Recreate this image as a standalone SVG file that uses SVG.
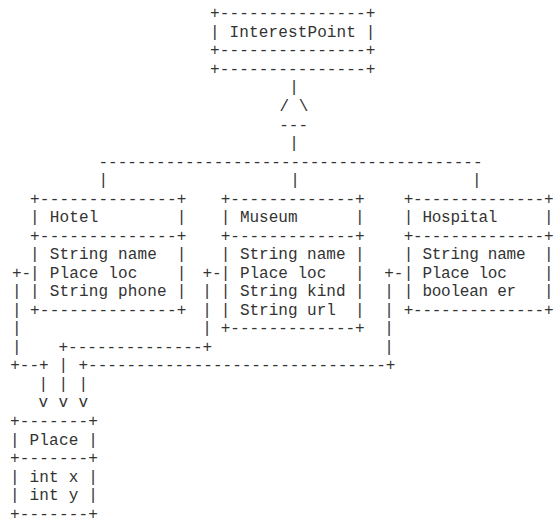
<svg xmlns="http://www.w3.org/2000/svg" width="553" height="518" viewBox="0 0 553 518" xml:space="preserve">
<style>
text { font-family: "Liberation Mono", "Courier New", monospace; font-size: 16px; fill: #333; white-space: pre; }
.ip text { letter-spacing: 0.13px; }
.hotel text { letter-spacing: 0.17px; }
.hosp text { letter-spacing: -0.25px; }
.place text { letter-spacing: 0.2px; }
.sp text.wide { letter-spacing: 0.4px; }
</style>
<rect width="553" height="518" fill="#fff"/>
<g id="InterestPoint" class="ip">
<text x="210.1" y="18.3">+---------------+</text>
<text x="210.1" y="36.8">| InterestPoint |</text>
<text x="210.1" y="55.4">+---------------+</text>
<text x="210.1" y="73.9">+---------------+</text>
</g>
<g id="Hotel" class="hotel">
<text x="30.1" y="203.6">+--------------+</text>
<text x="30.1" y="222.1">| Hotel        |</text>
<text x="30.1" y="240.7">+--------------+</text>
<text x="30.1" y="259.2">| String name  |</text>
<text x="30.1" y="277.7">| Place loc    |</text>
<text x="30.1" y="296.3">| String phone |</text>
<text x="30.1" y="314.8">+--------------+</text>
</g>
<g id="Museum">
<text x="220.7" y="203.6">+-------------+</text>
<text x="220.7" y="222.1">| Museum      |</text>
<text x="220.7" y="240.7">+-------------+</text>
<text x="220.7" y="259.2">| String name |</text>
<text x="220.7" y="277.7">| Place loc   |</text>
<text x="220.7" y="296.3">| String kind |</text>
<text x="220.7" y="314.8">| String url  |</text>
<text x="220.7" y="333.3">+-------------+</text>
</g>
<g id="Hospital" class="hosp">
<text x="403.7" y="203.6">+--------------+</text>
<text x="403.7" y="222.1">| Hospital     |</text>
<text x="403.7" y="240.7">+--------------+</text>
<text x="403.7" y="259.2">| String name  |</text>
<text x="403.7" y="277.7">| Place loc    |</text>
<text x="403.7" y="296.3">| boolean er   |</text>
<text x="403.7" y="314.8">+--------------+</text>
</g>
<g id="Place" class="place">
<text x="9.9" y="426.0">+-------+</text>
<text x="9.9" y="444.5">| Place |</text>
<text x="9.9" y="463.0">+-------+</text>
<text x="9.9" y="481.6">| int x |</text>
<text x="9.9" y="500.1">| int y |</text>
<text x="9.9" y="518.6">+-------+</text>
</g>
<g id="connectors" class="sp">
<text x="289.2" y="92.4">|</text>
<text x="279.5" y="110.9">/ \</text>
<text x="279.2" y="129.5">---</text>
<text x="289.2" y="148.0">|</text>
<text x="98.5" y="166.5">----------------------------------------</text>
<text x="98.5" y="185.1">|</text>
<text x="290.2" y="185.1">|</text>
<text x="471.9" y="185.1">|</text>
<text x="11.9" y="277.7">+-</text>
<text x="202.5" y="277.7">+-</text>
<text x="384.2" y="277.7">+-</text>
<text x="11.9" y="296.3">|</text>
<text x="202.2" y="296.3">|</text>
<text x="384.2" y="296.3">|</text>
<text x="11.9" y="314.8">|</text>
<text x="202.2" y="314.8">|</text>
<text x="384.2" y="314.8">|</text>
<text x="11.9" y="333.3">|</text>
<text x="202.2" y="333.3">|</text>
<text x="384.2" y="333.3">|</text>
<text x="11.9" y="351.8">|</text>
<text x="58.5" y="351.8">+--------------+</text>
<text x="384.2" y="351.8">|</text>
<text x="10.2" y="370.4">+--+</text>
<text x="58.5" y="370.4">|</text>
<text x="78.5" y="370.4">+-------------------------------+</text>
<text class="wide" x="38.5" y="388.9">| | |</text>
<text class="wide" x="38.5" y="407.4">v v v</text>
</g>
</svg>
